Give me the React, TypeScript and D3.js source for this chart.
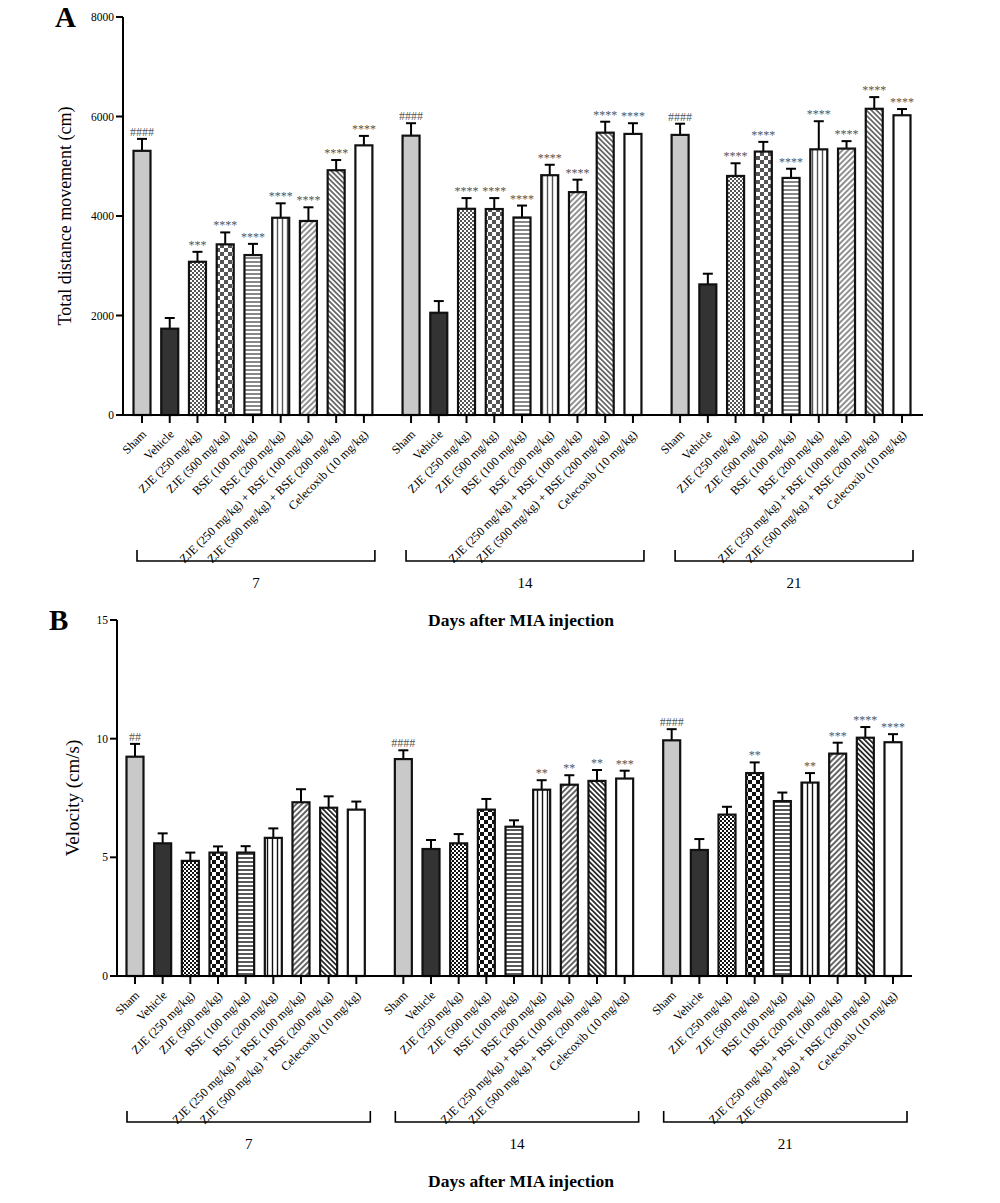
import React from "react"
import * as d3 from "d3"

// groups (days after MIA injection) and treatments
const days = ["7", "14", "21"]
const treatments = [
  "Sham",
  "Vehicle",
  "ZJE (250 mg/kg)",
  "ZJE (500 mg/kg)",
  "BSE (100 mg/kg)",
  "BSE (200 mg/kg)",
  "ZJE (250 mg/kg) + BSE (100 mg/kg)",
  "ZJE (500 mg/kg) + BSE (200 mg/kg)",
  "Celecoxib (10 mg/kg)",
]
const fills = ["sham", "vehicle", "checkFine", "checkCoarse", "horiz", "vert", "diagUp", "diagDown", "white"]

// Panel A: total distance movement (cm), mean and upper error
const distance7 = [5310, 1735, 3080, 3430, 3215, 3965, 3900, 4920, 5420]
const distanceErr7 = [5550, 1950, 3280, 3670, 3440, 4255, 4175, 5125, 5610]
const distance14 = [5615, 2055, 4145, 4140, 3970, 4820, 4480, 5675, 5650]
const distanceErr14 = [5865, 2290, 4360, 4360, 4210, 5030, 4730, 5895, 5865]
const distance21 = [5630, 2625, 4805, 5295, 4765, 5340, 5355, 6155, 6025]
const distanceErr21 = [5855, 2840, 5060, 5490, 4950, 5905, 5505, 6390, 6150]
const distanceSig7 = ["####", "", "***", "****", "****", "****", "****", "****", "****"]
const distanceSig14 = ["####", "", "****", "****", "****", "****", "****", "****", "****"]
const distanceSig21 = ["####", "", "****", "****", "****", "****", "****", "****", "****"]
const distanceTicks = [0, 2000, 4000, 6000, 8000]

// Panel B: velocity (cm/s)
const velocity7 = [9.24, 5.59, 4.85, 5.2, 5.2, 5.82, 7.32, 7.09, 7.01]
const velocityErr7 = [9.78, 6.01, 5.2, 5.46, 5.47, 6.22, 7.87, 7.57, 7.35]
const velocity14 = [9.14, 5.35, 5.59, 7.01, 6.29, 7.85, 8.06, 8.22, 8.32]
const velocityErr14 = [9.51, 5.73, 5.98, 7.46, 6.56, 8.25, 8.46, 8.68, 8.65]
const velocity21 = [9.93, 5.31, 6.8, 8.55, 7.37, 8.15, 9.37, 10.04, 9.85]
const velocityErr21 = [10.4, 5.77, 7.13, 9.0, 7.73, 8.55, 9.83, 10.49, 10.19]
const velocitySig7 = ["##", "", "", "", "", "", "", "", ""]
const velocitySig14 = ["####", "", "", "", "", "**", "**", "**", "***"]
const velocitySig21 = ["####", "", "", "**", "", "**", "***", "****", "****"]
const velocityTicks = [0, 5, 10, 15]

const serif = "'Liberation Serif', 'Times New Roman', serif"
const GAP = 0.7

function Patterns({ id, ink }: { id: string; ink: string }) {
  return (
    <>
      <pattern id={`${id}-checkFine`} patternUnits="userSpaceOnUse" width={4} height={4}>
        <rect width={4} height={4} fill="#fff" />
        <rect width={2} height={2} fill={ink} />
        <rect x={2} y={2} width={2} height={2} fill={ink} />
      </pattern>
      <pattern id={`${id}-checkCoarse`} patternUnits="userSpaceOnUse" width={8} height={8}>
        <rect width={8} height={8} fill="#fff" />
        <rect width={4} height={4} fill={ink} />
        <rect x={4} y={4} width={4} height={4} fill={ink} />
      </pattern>
      <pattern id={`${id}-horiz`} patternUnits="userSpaceOnUse" width={4} height={4}>
        <rect width={4} height={4} fill="#fff" />
        <line x1={0} x2={4} y1={2} y2={2} stroke={ink} strokeWidth={1.4} />
      </pattern>
      <pattern id={`${id}-vert`} patternUnits="userSpaceOnUse" width={5} height={5}>
        <rect width={5} height={5} fill="#fff" />
        <line x1={2.5} x2={2.5} y1={0} y2={5} stroke={ink} strokeWidth={1.4} />
      </pattern>
      <pattern id={`${id}-diagUp`} patternUnits="userSpaceOnUse" width={4} height={4} patternTransform="rotate(45)">
        <rect width={4} height={4} fill="#fff" />
        <line x1={2} x2={2} y1={0} y2={4} stroke={ink} strokeWidth={1.3} />
      </pattern>
      <pattern id={`${id}-diagDown`} patternUnits="userSpaceOnUse" width={3.6} height={3.6} patternTransform="rotate(-45)">
        <rect width={3.6} height={3.6} fill="#fff" />
        <line x1={1.8} x2={1.8} y1={0} y2={3.6} stroke={ink} strokeWidth={1.6} />
      </pattern>
    </>
  )
}

function fillFor(id: string, key: string) {
  if (key === "sham") return "#c9c9c9"
  if (key === "vehicle") return "#333"
  if (key === "white") return "#fff"
  return `url(#${id}-${key})`
}

interface PanelProps {
  id: string
  letter: string
  yLabel: string
  yLabelSize: number
  means: number[][]
  errs: number[][]
  sigs: string[][]
  ticks: number[]
  yMax: number
  axisX: number
  top: number
  bottom: number
  firstX: number
  lastX: number
  axisEnd: number
  bracketL: number
  bracketR: number
  yLabelX: number
  ink: string
}

function Panel(p: PanelProps) {
  const y = d3.scaleLinear().domain([0, p.yMax]).range([p.bottom, p.top])
  const lastSlot = 2 * (treatments.length + GAP) + treatments.length - 1
  const x = d3.scaleLinear().domain([0, lastSlot]).range([p.firstX, p.lastX])
  const slot = (g: number, i: number) => g * (treatments.length + GAP) + i
  const barW = 17
  const labelY = p.bottom + 20
  const bracketY = p.bottom + 146
  return (
    <g fontFamily={serif}>
      <defs>
        <Patterns id={p.id} ink={p.ink} />
      </defs>
      <text x={p.axisX - 68} y={p.top + 10} fontSize={29} fontWeight="bold">
        {p.letter}
      </text>
      <text
        transform={`translate(${p.yLabelX},${(p.top + p.bottom) / 2}) rotate(-90)`}
        textAnchor="middle"
        fontSize={p.yLabelSize}
      >
        {p.yLabel}
      </text>
      {p.ticks.map((t) => (
        <g key={t}>
          <line x1={p.axisX - 7} x2={p.axisX} y1={y(t)} y2={y(t)} stroke="#000" strokeWidth={2} />
          <text x={p.axisX - 9} y={y(t) + 4} textAnchor="end" fontSize={11.5}>
            {t}
          </text>
        </g>
      ))}
      {days.map((day, g) => (
        <g key={day}>
          {treatments.map((name, i) => {
            const cx = x(slot(g, i))
            const v = p.means[g][i]
            const e = p.errs[g][i]
            return (
              <g key={name}>
                <line x1={cx} x2={cx} y1={y(v)} y2={y(e)} stroke="#000" strokeWidth={2} />
                <line x1={cx - 5} x2={cx + 5} y1={y(e)} y2={y(e)} stroke="#000" strokeWidth={2} />
                <rect
                  x={cx - barW / 2}
                  y={y(v)}
                  width={barW}
                  height={y(0) - y(v)}
                  fill={fillFor(p.id, fills[i])}
                  stroke="#111"
                  strokeWidth={2.2}
                />
                {p.sigs[g][i] && (
                  <text x={cx} y={y(e) - 3} textAnchor="middle" fontSize={12} fill="#555">
                    {p.sigs[g][i]}
                  </text>
                )}
                <line x1={cx} x2={cx} y1={p.bottom} y2={p.bottom + 8} stroke="#000" strokeWidth={2} />
                <text
                  transform={`translate(${cx + 5},${labelY}) rotate(-45)`}
                  textAnchor="end"
                  fontSize={12.2}
                >
                  {name}
                </text>
              </g>
            )
          })}
          <path
            d={`M${x(slot(g, 0)) + p.bracketL},${bracketY - 11}V${bracketY}H${x(slot(g, 8)) + p.bracketR}V${bracketY - 11}`}
            fill="none"
            stroke="#000"
            strokeWidth={1.6}
          />
          <text
            x={(x(slot(g, 0)) + p.bracketL + x(slot(g, 8)) + p.bracketR) / 2}
            y={bracketY + 27}
            textAnchor="middle"
            fontSize={15}
          >
            {day}
          </text>
        </g>
      ))}
      <line x1={p.axisX} x2={p.axisX} y1={p.top} y2={p.bottom + 1} stroke="#000" strokeWidth={2} />
      <line x1={p.axisX - 7} x2={p.axisEnd} y1={p.bottom} y2={p.bottom} stroke="#000" strokeWidth={2} />
      <text x={521} y={bracketY + 65} textAnchor="middle" fontSize={17.5} fontWeight="bold">
        Days after MIA injection
      </text>
    </g>
  )
}

export default function App() {
  return (
    <svg
      width={1000}
      height={1203}
      style={{ position: "absolute", left: 0, top: 0, background: "#fff" }}
    >
      <rect width={1000} height={1203} fill="#fff" />
      <Panel
        id="a"
        letter="A"
        yLabel="Total distance movement (cm)"
        yLabelSize={18}
        means={[distance7, distance14, distance21]}
        errs={[distanceErr7, distanceErr14, distanceErr21]}
        sigs={[distanceSig7, distanceSig14, distanceSig21]}
        ticks={distanceTicks}
        yMax={8000}
        axisX={123}
        top={17}
        bottom={415}
        firstX={142}
        lastX={902}
        axisEnd={923}
        bracketL={-5}
        bracketR={11}
        yLabelX={71}
        ink="#555"
      />
      <Panel
        id="b"
        letter="B"
        yLabel="Velocity (cm/s)"
        yLabelSize={19}
        means={[velocity7, velocity14, velocity21]}
        errs={[velocityErr7, velocityErr14, velocityErr21]}
        sigs={[velocitySig7, velocitySig14, velocitySig21]}
        ticks={velocityTicks}
        yMax={15}
        axisX={117}
        top={620}
        bottom={976}
        firstX={135}
        lastX={893}
        axisEnd={912}
        bracketL={-8}
        bracketR={14}
        yLabelX={79}
        ink="#111"
      />
    </svg>
  )
}
